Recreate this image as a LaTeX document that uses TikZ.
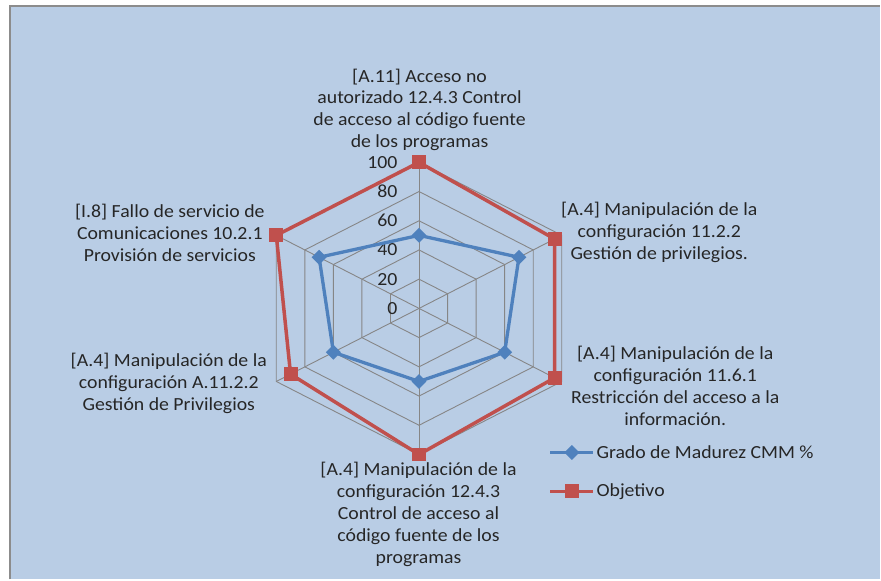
\documentclass[tikz,border=0pt]{standalone}
\usepackage{fontspec}
\setmainfont[FakeStretch=1.07]{Carlito}
\usepackage{tikz}
\usetikzlibrary{shapes,positioning,calc}

\definecolor{chartbg}{HTML}{B9CDE5}
\definecolor{gradoblue}{HTML}{4F81BD}
\definecolor{objred}{HTML}{C0504D}
\definecolor{gridgray}{HTML}{868686}
\definecolor{framegray}{HTML}{8C8C8C}
\definecolor{labeltext}{HTML}{262626}

\tikzset{
  axislabel/.style={align=center, text=labeltext, inner sep=0pt,
    font=\fontsize{18.5}{22}\selectfont},
  ticklabel/.style={anchor=east, text=labeltext, inner sep=0pt,
    font=\fontsize{18.5}{22}\selectfont},
  legendtext/.style={anchor=west, text=labeltext, inner sep=0pt,
    font=\fontsize{18.5}{22}\selectfont},
  gridline/.style={draw=gridgray, line width=0.9pt},
  gradoline/.style={draw=gradoblue, line width=3.3pt, line join=round},
  objline/.style={draw=objred, line width=3.5pt, line join=round},
  gradomark/.style={diamond, fill=gradoblue, inner sep=0pt, minimum size=15pt},
  objmark/.style={rectangle, fill=objred, inner sep=0pt, minimum size=14pt}
}

\begin{document}
\begin{tikzpicture}[x=1pt, y=-1pt]
    % frame
    \fill[white] (0,0) rectangle (881,580);
    \fill[chartbg] (10,6) rectangle (881,580);
    \draw[framegray, line width=2pt] (10,580) -- (10,6) -- (881,6);

    % centre and spoke ends (value 100)
    \coordinate (c) at (419.5,308.75);
    \coordinate (d0) at (419.5,162.5);
    \coordinate (d1) at (562.4,235.6);
    \coordinate (d2) at (562.4,381.9);
    \coordinate (d3) at (419.5,455);
    \coordinate (d4) at (276.6,381.9);
    \coordinate (d5) at (276.6,235.6);

    % grid
    \foreach \v in {0.2,0.4,0.6,0.8,1.0}
        \draw[gridline] ($(c)!\v!(d0)$) -- ($(c)!\v!(d1)$) -- ($(c)!\v!(d2)$)
            -- ($(c)!\v!(d3)$) -- ($(c)!\v!(d4)$) -- ($(c)!\v!(d5)$) -- cycle;
    \foreach \k in {0,...,5}
        \draw[gridline] (c) -- (d\k);

    % tick labels
    \foreach \v in {0,20,40,60,80,100}
        \node[ticklabel] (tick\v) at ($(398,308.75)+(0,-1.4625*\v)$) {\v};

    % Grado de Madurez CMM %
    \foreach \k/\v in {0/0.5,1/0.7,2/0.6,3/0.5,4/0.6,5/0.7}
        \coordinate (b\k) at ($(c)!\v!(d\k)$);
    \draw[gradoline] (b0) -- (b1) -- (b2) -- (b3) -- (b4) -- (b5) -- cycle;
    \foreach \k in {0,...,5}
        \node[gradomark] (bm\k) at (b\k) {};

    % Objetivo
    \foreach \k/\v in {0/1.0,1/0.95,2/0.95,3/1.0,4/0.9,5/1.0}
        \coordinate (r\k) at ($(c)!\v!(d\k)$);
    \draw[objline] (r0) -- (r1) -- (r2) -- (r3) -- (r4) -- (r5) -- cycle;
    \foreach \k in {0,...,5}
        \node[objmark] (rm\k) at (r\k) {};

    % axis labels
    \node[axislabel] (lbl0) at (420,110) {[A.11] Acceso no\\autorizado 12.4.3 Control\\de acceso al código fuente\\de los programas};
    \node[axislabel] (lbl1) at (660,233) {[A.4] Manipulación de la\\configuración 11.2.2\\Gestión de privilegios.};
    \node[axislabel] (lbl2) at (676,386) {[A.4] Manipulación de la\\configuración 11.6.1\\Restricción del acceso a la\\información.};
    \node[axislabel] (lbl3) at (419,515) {[A.4] Manipulación de la\\configuración 12.4.3\\Control de acceso al\\código fuente de los\\programas};
    \node[axislabel] (lbl4) at (169,384) {[A.4] Manipulación de la\\configuración A.11.2.2\\Gestión de Privilegios};
    \node[axislabel] (lbl5) at (170,233) {[I.8] Fallo de servicio de\\Comunicaciones 10.2.1\\Provisión de servicios};

    % legend
    \coordinate (lga) at (551,453);
    \coordinate (lgb) at (594,453);
    \draw[gradoline] (lga) -- (lgb);
    \node[gradomark] (lgm) at ($(lga)!0.5!(lgb)$) {};
    \node[legendtext, right=3pt of lgb] (lgt) {Grado de Madurez CMM \%};

    \coordinate (lgc) at (551,492);
    \coordinate (lgd) at (594,492);
    \draw[objline] (lgc) -- (lgd);
    \node[objmark] (lgn) at ($(lgc)!0.5!(lgd)$) {};
    \node[legendtext, right=3pt of lgd] (lgu) {Objetivo};
\end{tikzpicture}
\end{document}
